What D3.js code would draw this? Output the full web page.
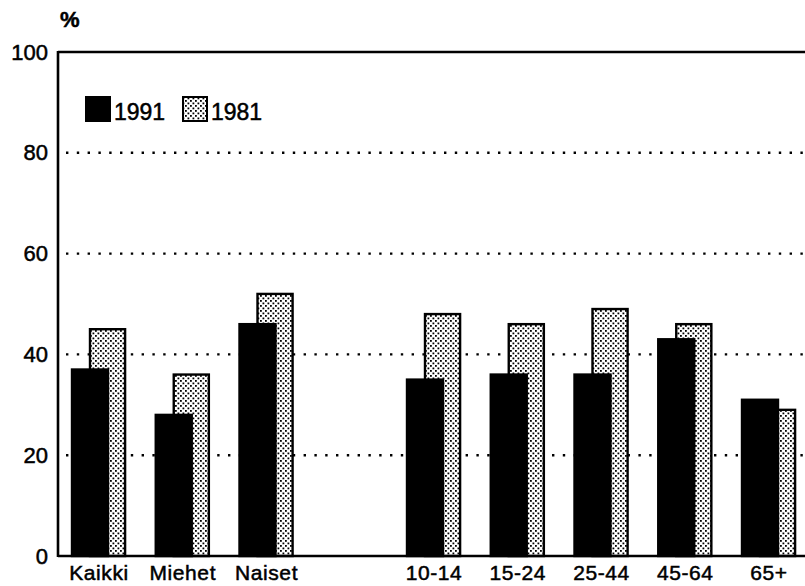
<!DOCTYPE html>
<html><head><meta charset="utf-8">
<script src="https://cdn.jsdelivr.net/npm/d3@7"></script>
<style>
html,body{margin:0;padding:0;background:#fff;}
svg{display:block;font-family:"Liberation Sans",Arial,Helvetica,sans-serif;}
</style></head>
<body>
<svg id="chart" width="805" height="586"></svg>
<script>
const categories = ["Kaikki","Miehet","Naiset","10-14","15-24","25-44","45-64","65+"];
const slots = ["Kaikki","Miehet","Naiset","gap","10-14","15-24","25-44","45-64","65+"];
const series = ["1991","1981"];
const values1991 = [37, 28, 46, 35, 36, 36, 43, 31];
const values1981 = [45, 36, 52, 48, 46, 49, 46, 29];
const yTicks = [0, 20, 40, 60, 80, 100];

(function(){
const svg = d3.select("#chart");
const defs = svg.append("defs");
const pat = defs.append("pattern").attr("id","dots").attr("patternUnits","userSpaceOnUse")
  .attr("width",5).attr("height",5);
pat.append("rect").attr("width",5).attr("height",5).attr("fill","#fff");
pat.append("rect").attr("x",0).attr("y",0).attr("width",1.8).attr("height",1.8).attr("fill","#000");
pat.append("rect").attr("x",2.5).attr("y",2.5).attr("width",1.8).attr("height",1.8).attr("fill","#000");

const axisX = 58, plotTop = 52, base = 556, plotRight = 805;
const y = d3.scaleLinear().domain([0,100]).range([base, plotTop]);
const step = 83.75;
const pi = (step - 54) / step;
const x = d3.scaleBand().domain(slots).range([72, 72 + step * (slots.length - pi)])
  .paddingInner(pi).paddingOuter(0);
const bw = x.bandwidth();

// gridlines
svg.append("g").selectAll("line").data(yTicks.filter(d => d > 0 && d < 100)).join("line")
  .attr("x1", 66).attr("x2", plotRight).attr("y1", d => y(d)).attr("y2", d => y(d))
  .attr("stroke","#000").attr("stroke-width",2.4).attr("stroke-dasharray","2.4,8.4");

const data = categories.map((c,i) => ({c, v91: values1991[i], v81: values1981[i]}));
// bars 1981 (behind)
svg.append("g").selectAll("rect").data(data).join("rect")
  .attr("x", d => x(d.c) + bw/3).attr("width", bw*0.65)
  .attr("y", d => y(d.v81)).attr("height", d => y(0) - y(d.v81))
  .attr("fill","url(#dots)").attr("stroke","#000").attr("stroke-width",2.4);
svg.append("g").selectAll("rect").data(data).join("rect")
  .attr("x", d => x(d.c)).attr("width", bw*2/3)
  .attr("y", d => y(d.v91)).attr("height", d => y(0) - y(d.v91))
  .attr("fill","#000").attr("stroke","#000").attr("stroke-width",2.4);

// frame
svg.append("line").attr("x1",axisX).attr("x2",axisX).attr("y1",plotTop-1).attr("y2",base+1)
  .attr("stroke","#000").attr("stroke-width",2.6);
svg.append("line").attr("x1",axisX).attr("x2",plotRight).attr("y1",plotTop).attr("y2",plotTop)
  .attr("stroke","#000").attr("stroke-width",2.6);
svg.append("line").attr("x1",axisX).attr("x2",plotRight).attr("y1",base).attr("y2",base)
  .attr("stroke","#000").attr("stroke-width",2.6);

const heavy = sel => sel.attr("fill","#000").attr("stroke","#000").attr("stroke-width",0.5)
  .attr("font-family","'Liberation Sans',Arial,sans-serif");

// y axis
const ya = svg.append("g").attr("transform",`translate(${axisX},0)`)
  .call(d3.axisLeft(y).tickValues(yTicks).tickSize(0).tickPadding(10));
ya.select(".domain").remove();
ya.selectAll("text").attr("font-size",22).call(heavy);

// x axis
const xa = svg.append("g").attr("transform",`translate(0,${base})`)
  .call(d3.axisBottom(x).tickValues(categories).tickSize(0).tickPadding(9));
xa.select(".domain").remove();
xa.selectAll("text").attr("font-size",21).attr("letter-spacing",0.6).call(heavy);

// % label
svg.append("text").attr("x",60).attr("y",27).text("%")
  .attr("font-size",22).attr("font-weight","bold").call(heavy);

// legend
const leg = svg.append("g");
const legX = [86, 183];
series.forEach((s,i) => {
  leg.append("rect").attr("x",legX[i]).attr("y",97).attr("width",24).attr("height",24)
    .attr("fill", i===0 ? "#000" : "url(#dots)").attr("stroke","#000").attr("stroke-width",2);
  leg.append("text").attr("x",legX[i]+28).attr("y",120).text(s).attr("font-size",23).call(heavy);
});
})();
</script>
</body></html>
